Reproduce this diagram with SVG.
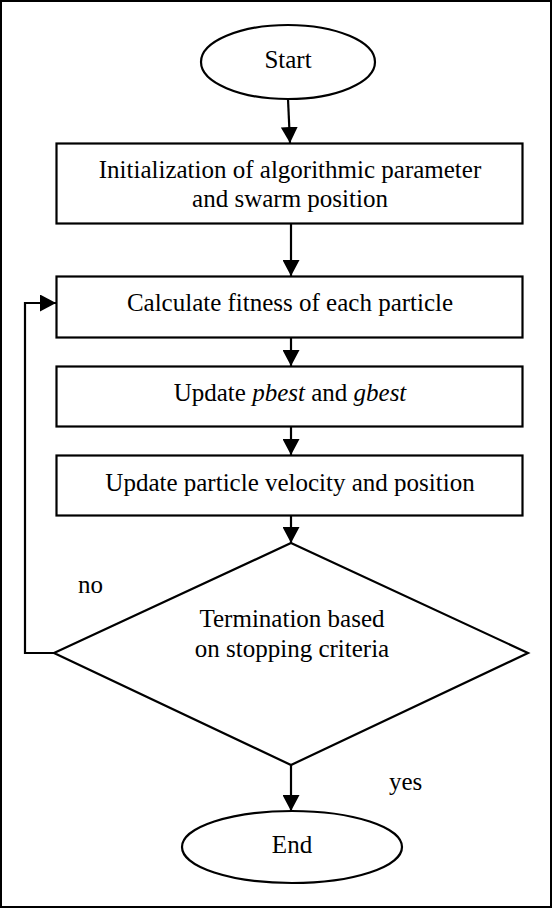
<svg xmlns="http://www.w3.org/2000/svg" width="553" height="909" viewBox="0 0 553 909">
<style>
.s{fill:#fff;stroke:#000;stroke-width:2.2}
.t{font-family:'Liberation Serif','Times New Roman',Times,serif;font-size:25px;fill:#000}
.c{text-anchor:middle}
.l{fill:none;stroke:#000;stroke-width:2.2}
</style>
<defs>
<marker id="ah" markerUnits="userSpaceOnUse" viewBox="0 0 16 17" refX="16" refY="8.5" markerWidth="16" markerHeight="17" orient="auto">
<path d="M0,0 L16,8.5 L0,17 Z" fill="#000"/>
</marker>
</defs>
<rect x="1" y="1" width="550" height="906" fill="#fff" stroke="#000" stroke-width="2"/>
<g id="connectors">
<line class="l" x1="288" y1="99" x2="290" y2="143" marker-end="url(#ah)"/>
<line class="l" x1="291" y1="223" x2="291" y2="276" marker-end="url(#ah)"/>
<line class="l" x1="291" y1="337" x2="291" y2="366" marker-end="url(#ah)"/>
<line class="l" x1="291" y1="426" x2="291" y2="455" marker-end="url(#ah)"/>
<line class="l" x1="291" y1="516" x2="291" y2="543" marker-end="url(#ah)"/>
<line class="l" x1="291" y1="765" x2="291" y2="811" marker-end="url(#ah)"/>
<polyline class="l" points="54,653 25,653 25,303 56,303" marker-end="url(#ah)"/>
<text class="t" font-family="Liberation Serif, serif" x="78" y="593">no</text>
<text class="t" font-family="Liberation Serif, serif" x="389" y="790">yes</text>
</g>
<g id="start" font-family="Liberation Serif, serif">
<ellipse class="s" cx="288" cy="62" rx="87" ry="37"/>
<text class="t c" x="288" y="68">Start</text>
</g>
<g id="init">
<rect class="s" x="56.5" y="143.5" width="466" height="80"/>
<text class="t c" x="290" y="178">Initialization of algorithmic parameter</text>
<text class="t c" x="290" y="207">and swarm position</text>
</g>
<g id="fitness">
<rect class="s" x="56.5" y="276.5" width="466" height="61"/>
<text class="t c" x="290" y="311">Calculate fitness of each particle</text>
</g>
<g id="update-best">
<rect class="s" x="56.5" y="366.5" width="466" height="60"/>
<text class="t c" x="290" y="401">Update <tspan font-style="italic">pbest</tspan> and <tspan font-style="italic">gbest</tspan></text>
</g>
<g id="update-velocity">
<rect class="s" x="56.5" y="455.5" width="466" height="60"/>
<text class="t c" x="290" y="491">Update particle velocity and position</text>
</g>
<g id="decision">
<polygon class="s" points="291,543 528,653 291,765 54,653"/>
<text class="t c" x="292" y="627">Termination based</text>
<text class="t c" x="292" y="657">on stopping criteria</text>
</g>
<g id="end">
<ellipse class="s" cx="292" cy="847" rx="110" ry="36"/>
<text class="t c" x="292" y="853">End</text>
</g>
</svg>
